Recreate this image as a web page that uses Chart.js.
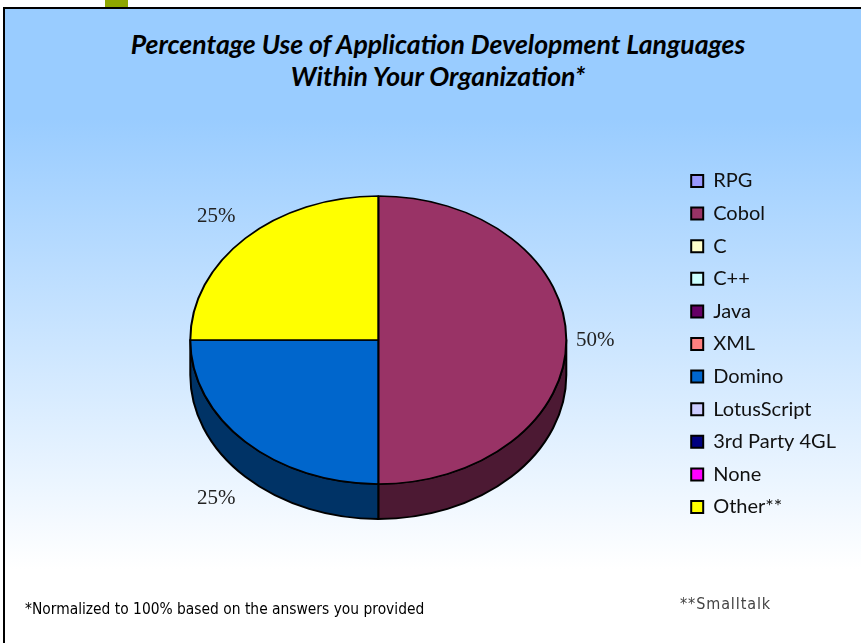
<!DOCTYPE html>
<html>
<head>
<meta charset="utf-8">
<title>Percentage Use of Application Development Languages</title>
<style>
  *{margin:0;padding:0;box-sizing:border-box}
  html,body{width:861px;height:643px;overflow:hidden;background:#fff;font-family:'Lato',sans-serif}
  .tab{position:absolute;left:105px;top:0;width:23px;height:8px;background:#8ea700}
  .frame{
    position:absolute;left:3px;top:7px;width:900px;height:700px;
    border:2px solid #000;
    background:linear-gradient(to bottom,#99ccff 0px,#99ccff 110px,#ffffff 560px);
  }
  .title{
    position:absolute;left:0;top:28px;width:876px;text-align:center;
    font:italic 700 26.6px/32px 'Lato',sans-serif;color:#000;
  }
  canvas{position:absolute;left:0;top:0}
  .note{position:absolute;left:25px;top:600px;font:15.4px 'Liberation Sans Narrow','DejaVu Sans Condensed',sans-serif;color:#000}
  .note2{position:absolute;left:680px;top:594px;font:16px 'Liberation Sans Narrow','DejaVu Sans Condensed',sans-serif;color:#444;letter-spacing:.9px}
</style>
</head>
<body>
<div class="tab"></div>
<div class="frame"></div>
<div class="title">Percentage Use of Application Development Languages<br>Within Your Organization*</div>
<canvas id="chart" width="861" height="643"></canvas>
<div class="note">*Normalized to 100% based on the answers you provided</div>
<div class="note2">**Smalltalk</div>

<script src="https://cdn.jsdelivr.net/npm/chart.js@4/dist/chart.umd.min.js"></script>
<script>
// ─── Data ──────────────────────────────────────────────────────
const languages = ["RPG", "Cobol", "C", "C++", "Java", "XML", "Domino",
                   "LotusScript", "3rd Party 4GL", "None", "Other**"];
const shares = [0, 50, 0, 0, 0, 0, 25, 0, 0, 0, 25];
const faceColors = ["#9999ff", "#993366", "#ffffcc", "#ccffff", "#660066", "#ff8080",
                    "#0066cc", "#ccccff", "#000080", "#ff00ff", "#ffff00"];

// ─── Disc look ─────────────────────────────────────────────────
const TILT = 144 / 188;  // vertical squash of the disc
const DEPTH = 35;        // thickness of the rim

// rim colour = face colour at half brightness
function shade(hex) {
  const n = parseInt(hex.slice(1), 16);
  const r = (n >> 16) >> 1, g = ((n >> 8) & 255) >> 1, b = (n & 255) >> 1;
  return `rgb(${r},${g},${b})`;
}
const rimColors = faceColors.map(shade);

const discPlugin = {
  id: "disc",
  beforeDatasetsDraw(chart) {
    const ctx = chart.ctx;
    const arcs = chart.getDatasetMeta(0).data;
    ctx.save();
    ctx.lineWidth = 2;
    ctx.strokeStyle = "#000";
    ctx.lineJoin = "round";
    arcs.forEach((arc, i) => {
      const { x, y, startAngle, endAngle, outerRadius } =
        arc.getProps(["x", "y", "startAngle", "endAngle", "outerRadius"], true);
      // only the front half of the rim shows
      const a1 = Math.max(startAngle, 0);
      const a2 = Math.min(endAngle, Math.PI);
      if (a2 <= a1) return;
      ctx.beginPath();
      ctx.ellipse(x, y, outerRadius, outerRadius * TILT, 0, a1, a2);
      ctx.ellipse(x, y + DEPTH, outerRadius, outerRadius * TILT, 0, a2, a1, true);
      ctx.closePath();
      ctx.fillStyle = rimColors[i];
      ctx.fill();
      ctx.stroke();
    });
    ctx.restore();

    // squash the top face into an ellipse
    const { x, y } = arcs[0];
    ctx.save();
    ctx.translate(x, y);
    ctx.scale(1, TILT);
    ctx.translate(-x, -y);
  },
  afterDatasetsDraw(chart) {
    const ctx = chart.ctx;
    ctx.restore();

    // percentage labels just outside the disc
    const arcs = chart.getDatasetMeta(0).data;
    ctx.save();
    ctx.font = '21px "Liberation Serif", serif';
    ctx.fillStyle = "#222";
    ctx.textAlign = "center";
    ctx.textBaseline = "middle";
    arcs.forEach((arc, i) => {
      if (!shares[i]) return;
      const { x, y, startAngle, endAngle, outerRadius } =
        arc.getProps(["x", "y", "startAngle", "endAngle", "outerRadius"], true);
      const mid = (startAngle + endAngle) / 2;
      const c = Math.cos(mid), s = Math.sin(mid);
      const m = Math.max(Math.abs(c), Math.abs(s));
      const ex = x + outerRadius * c;
      const ey = y + outerRadius * TILT * s + (s > 0.01 ? DEPTH : 0);
      ctx.fillText(shares[i] + "%", ex + 29 * c / m, ey + 22 * s / m);
    });
    ctx.restore();
  },
};

// ─── Chart ─────────────────────────────────────────────────────
new Chart(document.getElementById("chart"), {
  type: "pie",
  data: {
    labels: languages,
    datasets: [{
      data: shares,
      backgroundColor: faceColors,
      borderColor: "#000",
      borderWidth: 2,
    }],
  },
  options: {
    responsive: false,
    animation: false,
    events: [],
    radius: 188,
    layout: { padding: { top: 100, bottom: 63, left: 78, right: 15 } },
    plugins: {
      title: { display: false },
      tooltip: { enabled: false },
      legend: {
        position: "right",
        align: "center",
        // empty title just nudges the list down a little
        title: { display: true, text: "", font: { size: 4, lineHeight: 1 }, padding: { top: 4, bottom: 0 } },
        labels: {
          boxWidth: 12,
          boxHeight: 12,
          padding: 12.6,
          color: "#111",
          font: { family: "Lato", size: 20 },
        },
      },
    },
  },
  plugins: [discPlugin],
});
</script>
</body>
</html>
